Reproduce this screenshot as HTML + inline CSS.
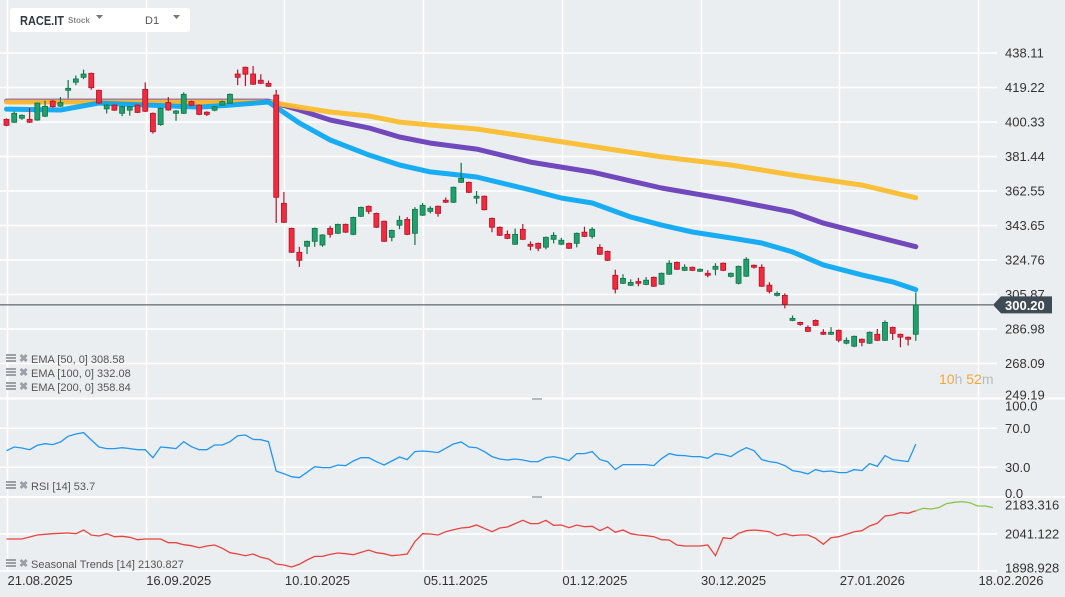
<!DOCTYPE html>
<html><head><meta charset="utf-8">
<style>
body{margin:0;background:#ebeef1;font-family:"Liberation Sans",sans-serif;}
#wrap{position:relative;width:1065px;height:597px;overflow:hidden;background:#ebeef1;}
svg{position:absolute;left:0;top:0;}
</style></head>
<body>
<div id="wrap">
<svg id="chart" width="1065" height="597"></svg>
</div>
<script>
const opens=[401.8,400.2,402.4,401.8,401.4,403.5,411.8,409,417.7,422.1,424.8,427,417.7,407.5,409.6,405.1,406.8,409.6,418.2,405.1,398.9,411,405.1,405.1,411.5,409.6,405.7,406.8,409.6,410.6,426.6,430.3,426.6,423.2,421.5,415.1,355.8,342.1,329,332.3,335,333,342.1,339.4,344.3,338.8,348.7,354.2,350.3,346,337.2,343.8,347,339.4,349.3,351.4,354.2,357.5,356.4,367.3,367.3,358.6,359.7,347.6,342.7,338.8,333.4,341.6,333.4,333.9,331.8,336.1,333.4,333.9,333.9,340,337.7,331.7,329.5,316.4,312,310.9,313,311.4,315.3,311.5,317,323.5,319.1,320.8,318.6,317.5,319.7,323,315.8,312,315.9,321.9,320.8,311,305.4,305.4,291.7,290.6,287.9,291.7,285.2,284.1,286.3,279.2,277.6,281.4,279.2,284.1,280.8,287.9,284.1,282.5,284.1];
const closes=[398.5,405.1,404,400.2,410.7,408.9,408.7,411,418.8,423.9,426.6,419.1,410.7,409.6,406.8,408.7,408.7,405.6,406.2,395,407.8,406.9,406.4,415.5,409.5,404.5,404.5,408.7,411.5,415.5,424.8,426.5,421,421.5,419.9,359.1,345.4,329,324.6,335,342.1,338.5,338.8,344.3,340,348.1,353.6,351.4,342.7,335,341,346.5,338.8,352.5,354.7,353.1,350.3,356.4,364.6,369.5,361.8,359.7,352.3,342.7,338.3,336.6,338.8,336.1,332.3,331.2,337.2,338.3,335.6,331.2,339.4,337.7,341.6,327.9,324.6,308.8,314.7,312.5,312,313.7,310.4,317.5,323,319.7,320.8,319.1,319.7,316.4,321.3,319.1,317.5,321.3,325.2,320.8,310.4,307.6,306.5,300.5,292.8,289.5,285.7,289,284.1,285.2,280.8,280.8,283,279.7,285.2,280.8,290.6,284.6,282.5,281.4,300.2];
const highs=[402.3,406,404.5,408,411,412,412.3,414,423.3,425.8,429,427.3,418,410,410,409,409,410,422,405.5,408.2,414,406.8,416.6,412,410,406.2,409.1,412,416,429,430.7,431,426.5,423,418,362,342.5,332,335.4,342.5,338.9,343.5,344.7,344.7,348.5,354,354.6,350.7,346.4,341.4,349,348.3,353.7,356,354.2,354.6,359,365,378,367.7,362.5,360.1,348,343.1,340.9,342,344.5,335,334.3,337.6,340,336.9,334.3,339.8,343,342.7,333.4,329.9,319.5,317,314.2,315,315.4,315.7,317.9,324.6,323.9,322.4,321.2,320.1,319.2,323,323.4,317.9,321.7,326.3,322.3,322.4,312.6,307.6,306.5,294.4,291,289,292.2,286.9,288,286.7,282.4,283.4,281.8,285.6,287,291.7,288.3,284.5,282.9,307];
const lows=[398,399.8,401.5,399.8,401,403,408.2,408.6,413.3,420.5,423.8,418,410.3,405,406.4,403.5,403.8,405.2,405.8,394,398.3,406.5,401,404.7,409,404.1,403.6,406.2,409.2,410.2,420.5,420,420.6,421.1,419.5,345,345,328.6,321,328,332,332,337,339,339.6,338.4,348.3,350,342.3,334.6,335,341.6,338.4,333,348.9,350.3,348.5,356,356,367,361.4,355.6,351.9,340,337.9,336.2,333,335.7,330,329.6,330.6,333.9,332.9,330.8,331.7,337.3,336.5,327.5,324.2,306.5,311.6,310.5,310.4,311,310,311.1,316.6,319.3,318.7,318.7,318.2,315.3,316.4,318.7,315.2,311.4,315.5,320,310,306.5,304.8,298.3,291.3,288.8,285.3,288.6,283.7,283.7,279.7,278.6,277,277.5,278.8,280.4,280.4,281,277,278,280.5];
const ema50Idx=[0,7,12,25,29,34,38,42,47,51,55,61,68,72,76,81,85,89,94,98,102,106,111,115,118];
const ema50Val=[407.4,406.9,410.7,408.5,409.6,411.3,399.8,390.5,382.3,376.8,373,370.2,363.1,358.7,356,348.3,343.9,340.1,336.8,334.1,329.2,322.1,316.6,312.8,308.58];
const ema100Idx=[0,34,38,42,47,51,55,61,68,76,85,94,102,106,111,118];
const ema100Val=[411.8,411.8,406.9,401.4,397.1,392.1,388.8,385.5,378.4,372.9,364.2,357.6,351,345,339.5,332.08];
const ema200Idx=[0,34,38,42,47,51,55,61,67,79,85,94,102,111,118];
const ema200Val=[411.3,411.3,408.5,405.8,403.6,400.3,398.7,396.5,392.7,385,381.2,376.8,371.3,365.8,358.84];
const rsi=[47,50.8,49.7,48,52.5,54.2,53.2,55.9,61.7,64.1,65.5,57.9,50.8,49.1,49.1,50.1,49.1,48,48,39.8,50.8,50.1,49.1,56.2,51.1,48,48,52.8,52.8,56.2,62.4,63.1,58.6,58.3,56.2,26.1,23.4,20.3,19.3,24.8,30.6,29.6,29.6,32.3,31.6,36.4,39.8,39.8,35.7,32.3,36.4,40.5,37.8,46,46.7,46,45,49.4,53.8,55.9,50.8,50.1,46,40.9,38.5,37.4,38.5,37.4,35.8,35.8,39.9,40.9,39.2,36.8,44,44,46,37.8,35.8,27.6,32.7,32.7,32.7,32.7,31.7,38.8,44,42.3,42,40.9,40.9,39.2,44,43,40.9,46,50.1,47,37.8,35.8,34.7,31.7,26.6,25.2,23.2,27.6,25.5,26.2,24.5,24.5,27.6,26.6,33.7,31,42,37.8,36.8,35.8,53.7];
const seasonal=[2021.9,2021.9,2021.9,2029.6,2037.3,2039.9,2042.4,2043.7,2045,2042.4,2056.5,2037.3,2033.4,2042.4,2030.9,2032.2,2028.3,2019.3,2021.9,2021.9,2021.9,2007.8,2007.8,2000.1,1996.3,1988.6,1995,1998.8,1986,1969.4,1964.2,1957.8,1964.2,1951.4,1945,1925.8,1921.9,1914.2,1924.5,1941.2,1955.2,1955.2,1962.9,1968.1,1965.5,1961.7,1970.6,1979.6,1969.4,1965.5,1957.8,1960.4,1964.2,2011.7,2042.4,2041.1,2037.3,2050.1,2057.8,2064.2,2066.8,2075.7,2062.9,2050.1,2064.2,2068,2080.9,2093.7,2080.9,2080.9,2093.7,2074.5,2075.7,2065.5,2075.7,2069.3,2070.6,2053.9,2068,2047.5,2056.5,2042.4,2037.3,2034.7,2030.9,2019.3,2018,1998.8,1995,1995,1995,1998.8,1957.8,2027,2023.2,2043.7,2053.9,2056.5,2053.9,2050.1,2034.7,2042.4,2034.7,2037.3,2037.3,2024.5,2001.4,2027,2030.9,2039.9,2050.1,2053.9,2071.9,2082.2,2110.3,2114.2,2123.2,2120.6,2130.827];
const forecast=[2130.827,2139.8,2137.3,2142.4,2157.8,2162.9,2165.5,2161.6,2148.8,2148.8,2142.4];
const priceTicks=[438.11,419.22,400.33,381.44,362.55,343.65,324.76,305.87,286.98,268.09,249.19];
const rsiTicks=[100,70,30,0];
const seasTicks=[2183.316,2041.122,1898.928];
const dateLabels=["21.08.2025","16.09.2025","10.10.2025","05.11.2025","01.12.2025","30.12.2025","27.01.2026","18.02.2026"];
const dateIdx=[0,18,36,54,72,90,108,126];
const lastPrice=300.20;

const NS="http://www.w3.org/2000/svg";
const svg=document.getElementById('chart');
function el(tag,attrs,parent){const e=document.createElementNS(NS,tag);for(const k in attrs)e.setAttribute(k,attrs[k]);(parent||svg).appendChild(e);return e;}
const xAt=i=>6.5+i*7.706;
const yP=p=>53+(438.11-p)*1.8264;
const yR=v=>496.5-v*0.975;
const yS=s=>534-(s-2041.122)/3.843;
const PLOT_R=997;

// grid
const grid=el('g',{});


dateIdx.forEach(i=>{const x=Math.round(xAt(i)+0.5)+0.5;el('line',{x1:x,x2:x,y1:0,y2:572,stroke:'#fff','stroke-width':1.5},grid);});
priceTicks.forEach(p=>{const y=yP(p);if(y<396)el('line',{x1:0,x2:PLOT_R,y1:y,y2:y,stroke:'#fff','stroke-width':1.5},grid);});
[70,30].forEach(v=>el('line',{x1:0,x2:PLOT_R,y1:yR(v),y2:yR(v),stroke:'#fff','stroke-width':1.5},grid));
[2041.122,1898.928].forEach(s=>el('line',{x1:0,x2:PLOT_R,y1:yS(s),y2:yS(s),stroke:'#fff','stroke-width':1.5},grid));
[398.5,497].forEach(y=>el('line',{x1:0,x2:1065,y1:y,y2:y,stroke:'#fff','stroke-width':2},grid));
[399,497].forEach(y=>el('rect',{x:532,y:y-1,width:10,height:2,fill:'#b5b9bd'},grid));

// axis labels
const ax=el('g',{'font-size':13,fill:'#333'});


priceTicks.forEach((p,k)=>{let y=yP(p)+4.5;if(k===priceTicks.length-1)y-=3;const t=el('text',{x:1005,y:y},ax);t.textContent=p.toFixed(2);});
rsiTicks.forEach(v=>{let y=yR(v)+4.5;if(v===100)y+=7;if(v===0)y-=3;const t=el('text',{x:1005,y:y},ax);t.textContent=v.toFixed(1);});
seasTicks.forEach((s,k)=>{let y=yS(s)+4.5;if(k===0)y+=8;if(k===2)y-=3;const t=el('text',{x:1005,y:y},ax);t.textContent=s.toFixed(3);});
const xa=el('g',{'font-size':13,fill:'#333'});


dateLabels.forEach((d,k)=>{const t=el('text',{x:xAt(dateIdx[k])+1,y:585},xa);t.textContent=d;});

// EMAs
function emaLine(idx,val,color,name){const d=idx.map((i,k)=>(k?'L':'M')+xAt(i).toFixed(1)+','+yP(val[k]).toFixed(1)).join('');const p=el('path',{d:d,fill:'none',stroke:color,'stroke-width':5,'stroke-linejoin':'round','stroke-linecap':'round',opacity:0.95});}
emaLine(ema100Idx,ema100Val,'#6a3fb8','ema-100-line');
emaLine(ema200Idx,ema200Val,'#fbbd2e','ema-200-line');
emaLine(ema50Idx,ema50Val,'#0ca8f2','ema-50-line');

// current price line
const pl=el('line',{x1:0,x2:993,y1:yP(lastPrice),y2:yP(lastPrice),stroke:'#3d4850','stroke-width':1});



// candles
const cg=el('g',{});


opens.forEach((o,i)=>{const c=closes[i];const up=c>=o;const x=xAt(i);const fill=up?'#1fa06c':'#f12a3e';const st=up?'#137248':'#b3142a';
 const g=el('g',{},cg);
 
 
 el('line',{x1:x,x2:x,y1:yP(highs[i]),y2:yP(lows[i]),stroke:st,'stroke-width':1.2},g);
 const top=yP(Math.max(o,c)),bot=yP(Math.min(o,c));
 el('rect',{x:x-2.5,y:top,width:5,height:Math.max(bot-top,1.5),fill:fill,stroke:st,'stroke-width':0.8},g);});

// price tag
const tag=el('g',{});


const py=yP(lastPrice);
el('path',{d:`M993,${py} L1001,${py-8.5} L1052,${py-8.5} L1052,${py+8.5} L1001,${py+8.5}Z`,fill:'#3f4b55'},tag);
const tt=el('text',{x:1005,y:py+5,'font-size':13,'font-weight':'bold',fill:'#fff'},tag);tt.textContent=lastPrice.toFixed(2);

// RSI line
const rp=el('path',{d:rsi.map((v,i)=>(i?'L':'M')+xAt(i).toFixed(1)+','+yR(v).toFixed(1)).join(''),fill:'none',stroke:'#2196f3','stroke-width':1.3});


// seasonal
const sp=el('path',{d:seasonal.map((v,i)=>(i?'L':'M')+xAt(i).toFixed(1)+','+yS(v).toFixed(1)).join(''),fill:'none',stroke:'#e8443f','stroke-width':1.3});


const fp=el('path',{d:forecast.map((v,i)=>(i?'L':'M')+xAt(i+118).toFixed(1)+','+yS(v).toFixed(1)).join(''),fill:'none',stroke:'#8bc34a','stroke-width':1.3});



// legends
function legend(y,txt,name){const g=el('g',{});
 el('rect',{x:6,y:y-8,width:10,height:2,fill:'#9aa0a6'},g);el('rect',{x:6,y:y-5,width:10,height:2,fill:'#9aa0a6'},g);el('rect',{x:6,y:y-2,width:10,height:2,fill:'#9aa0a6'},g);
 const x=el('text',{x:19,y:y,'font-size':11,fill:'#9aa0a6','font-weight':'bold'},g);x.textContent='✖';
 const t=el('text',{x:31,y:y+1,'font-size':11,fill:'#555'},g);t.textContent=txt;}
legend(362,'EMA [50, 0] 308.58','legend-ema-50');
legend(376,'EMA [100, 0] 332.08','legend-ema-100');
legend(390,'EMA [200, 0] 358.84','legend-ema-200');
legend(489,'RSI [14] 53.7','legend-rsi');
legend(567,'Seasonal Trends [14] 2130.827','legend-seasonal');

// timer
const tm=el('text',{x:939,y:384,'font-size':14});


tm.innerHTML='<tspan fill="#f7a531">10</tspan><tspan fill="#bbb">h </tspan><tspan fill="#f7a531">52</tspan><tspan fill="#bbb">m</tspan>';

// header
const hd=el('g',{});


el('rect',{x:10,y:8,width:180,height:24,rx:3,fill:'#fff'},hd);
const s1=el('text',{x:20,y:25,'font-size':13,'font-weight':'bold',fill:'#2f3b45',textLength:44,lengthAdjust:'spacingAndGlyphs'},hd);s1.textContent='RACE.IT';
const s2=el('text',{x:68,y:23,'font-size':8,'font-weight':'bold',fill:'#888'},hd);s2.textContent='Stock';
el('path',{d:'M96,15 L103,15 L99.5,19Z',fill:'#777'},hd);
const s3=el('text',{x:145,y:24,'font-size':11,fill:'#555'},hd);s3.textContent='D1';
el('path',{d:'M173,15 L180,15 L176.5,19Z',fill:'#777'},hd);
</script>
</body></html>
